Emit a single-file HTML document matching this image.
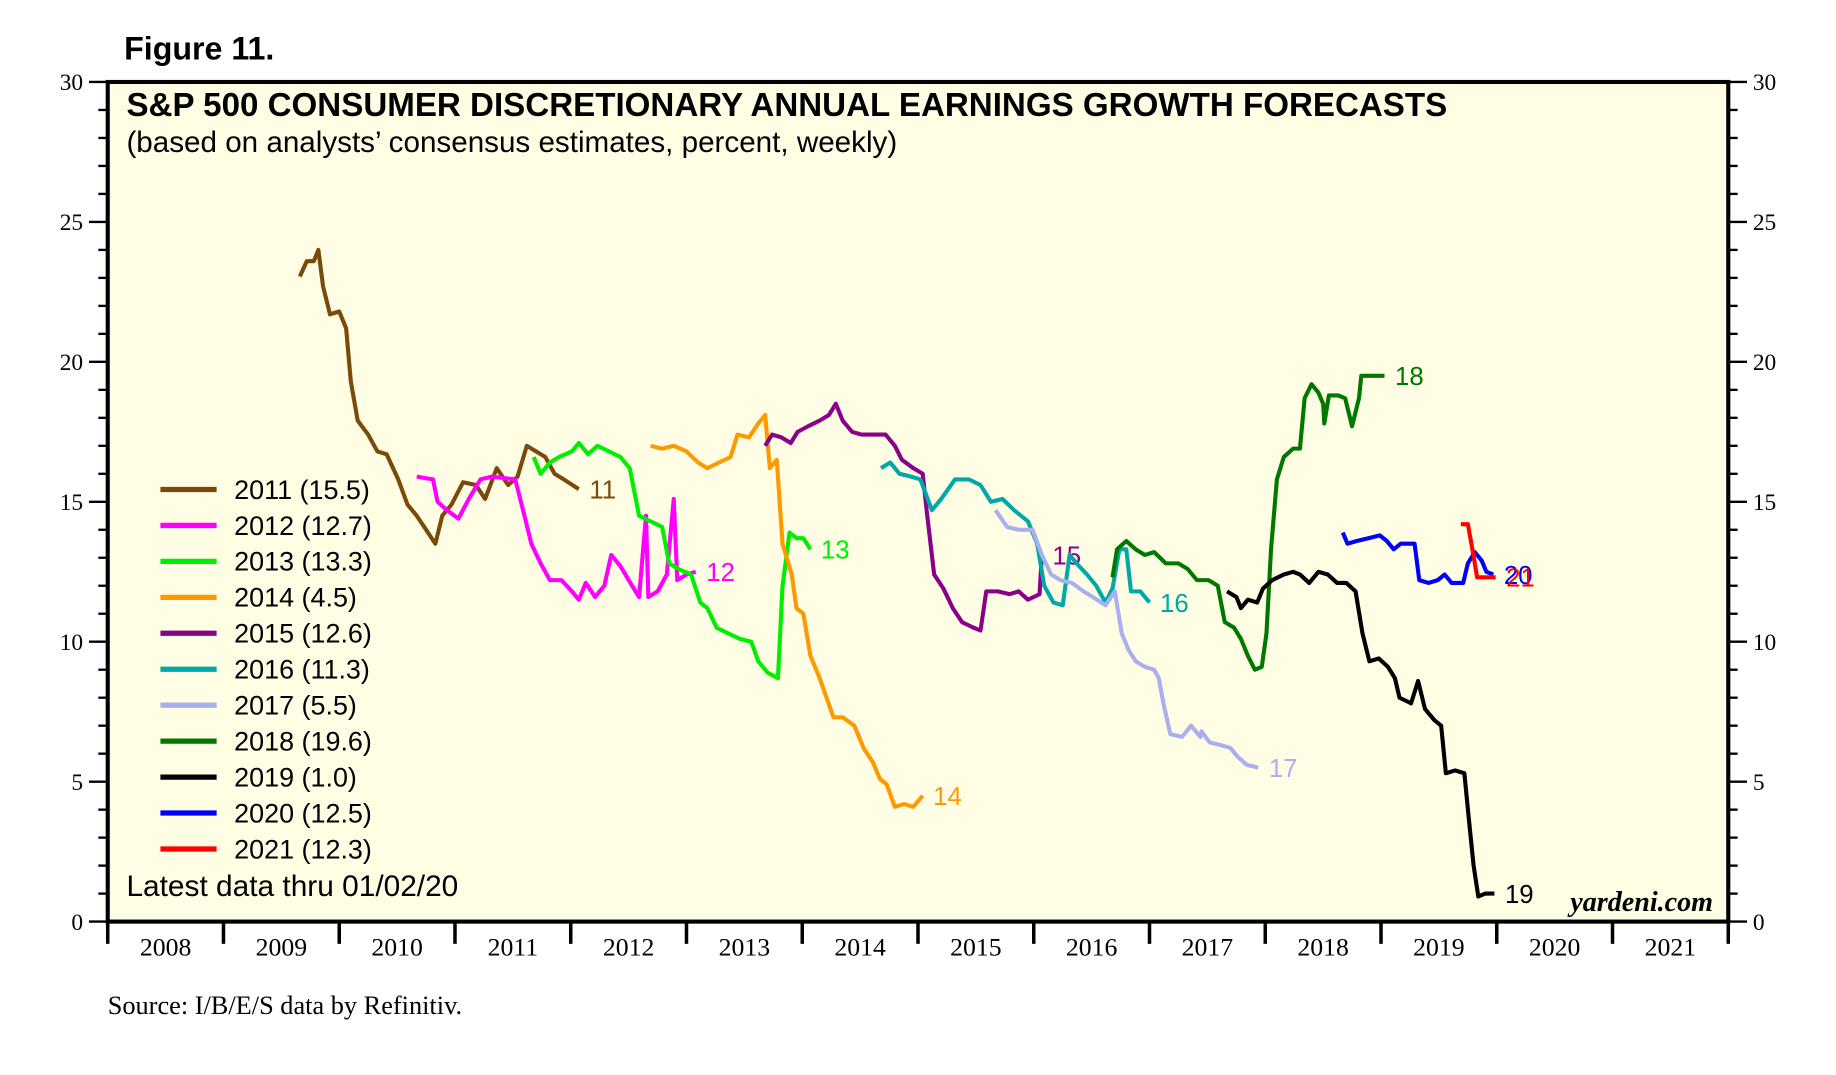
<!DOCTYPE html>
<html><head><meta charset="utf-8"><style>
html,body{margin:0;padding:0;background:#fff;}
svg{display:block;}
</style></head><body>
<svg id="chart" width="1836" height="1075" viewBox="0 0 1568 918" preserveAspectRatio="none" xmlns="http://www.w3.org/2000/svg">
<text x="106" y="51" font-family="Liberation Sans, sans-serif" font-weight="bold" font-size="27.5">Figure 11.</text>
<rect x="92" y="70" width="1384" height="717" fill="#fffde3"/>
<g id="axes"></g>
<g id="series"></g>
<rect x="92" y="70" width="1384" height="717" fill="none" stroke="#000" stroke-width="3.5"/>
<text x="108" y="99" font-family="Liberation Sans, sans-serif" font-weight="bold" font-size="28.3">S&amp;P 500 CONSUMER DISCRETIONARY ANNUAL EARNINGS GROWTH FORECASTS</text>
<text x="108" y="130" font-family="Liberation Sans, sans-serif" font-size="25.3">(based on analysts’ consensus estimates, percent, weekly)</text>
<g id="legend"></g>
<text x="108" y="765" font-family="Liberation Sans, sans-serif" font-size="25.5">Latest data thru 01/02/20</text>
<text x="1463" y="778" text-anchor="end" font-family="Liberation Serif, serif" font-style="italic" font-weight="bold" font-size="24">yardeni.com</text>
<text x="92" y="866" font-family="Liberation Serif, serif" font-size="22.5">Source: I/B/E/S data by Refinitiv.</text>
</svg>
<script>
const yearLabels=[2008,2009,2010,2011,2012,2013,2014,2015,2016,2017,2018,2019,2020,2021];
const yTicks=[0,5,10,15,20,25,30];
const seriesNames=["2011","2012","2013","2014","2015","2016","2017","2018","2019","2020","2021"];
const seriesColors=["#7a4a0a","#ff00ff","#00ee00","#ff9900","#8b008b","#00a8a8","#aab0ee","#007800","#000000","#0000ff","#ff0000"];
const legendValues=["15.5","12.7","13.3","4.5","12.6","11.3","5.5","19.6","1.0","12.5","12.3"];
const endLabels=["11","12","13","14","15","16","17","18","19","20","21"];
const t2011=[2009.66,2009.72,2009.78,2009.82,2009.86,2009.92,2010.0,2010.06,2010.10,2010.16,2010.25,2010.33,2010.41,2010.51,2010.59,2010.67,2010.75,2010.83,2010.89,2010.97,2011.07,2011.18,2011.26,2011.36,2011.46,2011.54,2011.62,2011.70,2011.78,2011.86,2011.94,2012.07];
const v2011=[23.05,23.6,23.6,24.0,22.7,21.7,21.8,21.2,19.3,17.9,17.4,16.8,16.7,15.8,14.9,14.5,14.0,13.5,14.5,14.9,15.7,15.6,15.1,16.2,15.6,15.9,17.0,16.8,16.6,16.0,15.8,15.45];
const t2012=[2010.67,2010.81,2010.85,2010.93,2011.03,2011.12,2011.22,2011.32,2011.52,2011.60,2011.66,2011.74,2011.82,2011.92,2012.01,2012.07,2012.13,2012.21,2012.29,2012.35,2012.43,2012.53,2012.59,2012.65,2012.67,2012.75,2012.83,2012.89,2012.92,2013.0,2013.08];
const v2012=[15.9,15.8,15.0,14.7,14.4,15.1,15.8,15.9,15.8,14.5,13.5,12.8,12.2,12.2,11.8,11.5,12.1,11.6,12.0,13.1,12.7,12.0,11.6,14.5,11.6,11.8,12.4,15.1,12.2,12.4,12.5];
const t2013=[2011.68,2011.74,2011.82,2011.90,2012.01,2012.07,2012.15,2012.23,2012.33,2012.43,2012.51,2012.59,2012.69,2012.79,2012.85,2012.93,2013.04,2013.12,2013.18,2013.26,2013.36,2013.46,2013.56,2013.62,2013.70,2013.79,2013.83,2013.89,2013.95,2014.01,2014.07];
const v2013=[16.6,16.0,16.4,16.6,16.8,17.1,16.7,17.0,16.8,16.6,16.2,14.5,14.3,14.1,12.8,12.6,12.4,11.4,11.2,10.5,10.3,10.1,10.0,9.3,8.9,8.7,12.0,13.9,13.7,13.7,13.3];
const t2014=[2012.69,2012.79,2012.89,2013.0,2013.10,2013.18,2013.28,2013.38,2013.44,2013.54,2013.62,2013.68,2013.72,2013.78,2013.83,2013.91,2013.95,2014.01,2014.07,2014.15,2014.21,2014.27,2014.35,2014.45,2014.53,2014.61,2014.67,2014.73,2014.80,2014.88,2014.96,2015.04];
const v2014=[17.0,16.9,17.0,16.8,16.4,16.2,16.4,16.6,17.4,17.3,17.8,18.1,16.2,16.5,13.5,12.4,11.2,11.0,9.5,8.7,8.0,7.3,7.3,7.0,6.2,5.7,5.1,4.9,4.1,4.2,4.1,4.5];
const t2015=[2013.68,2013.74,2013.82,2013.90,2013.96,2014.05,2014.15,2014.23,2014.29,2014.35,2014.43,2014.51,2014.62,2014.72,2014.80,2014.86,2014.96,2015.04,2015.08,2015.14,2015.22,2015.30,2015.38,2015.48,2015.54,2015.59,2015.69,2015.79,2015.87,2015.95,2016.05,2016.07];
const v2015=[17.0,17.4,17.3,17.1,17.5,17.7,17.9,18.1,18.5,17.9,17.5,17.4,17.4,17.4,17.0,16.5,16.2,16.0,14.5,12.4,11.9,11.2,10.7,10.5,10.4,11.8,11.8,11.7,11.8,11.5,11.7,13.1];
const t2016=[2014.68,2014.76,2014.84,2014.94,2015.02,2015.12,2015.20,2015.32,2015.44,2015.54,2015.63,2015.73,2015.83,2015.95,2016.03,2016.09,2016.17,2016.25,2016.31,2016.37,2016.46,2016.54,2016.62,2016.68,2016.74,2016.80,2016.84,2016.92,2017.0];
const v2016=[16.2,16.4,16.0,15.9,15.8,14.7,15.1,15.8,15.8,15.6,15.0,15.1,14.7,14.3,13.5,12.0,11.4,11.3,13.1,12.8,12.4,12.0,11.4,11.9,13.3,13.3,11.8,11.8,11.4];
const t2017=[2015.67,2015.77,2015.87,2015.99,2016.07,2016.15,2016.23,2016.33,2016.43,2016.51,2016.62,2016.70,2016.76,2016.82,2016.88,2016.96,2017.04,2017.08,2017.12,2017.18,2017.28,2017.36,2017.44,2017.45,2017.52,2017.62,2017.70,2017.76,2017.84,2017.94];
const v2017=[14.7,14.1,14.0,14.0,13.1,12.4,12.2,12.1,11.8,11.6,11.3,11.8,10.3,9.7,9.3,9.1,9.0,8.7,7.8,6.7,6.6,7.0,6.6,6.8,6.4,6.3,6.2,5.9,5.6,5.5];
const t2018=[2016.68,2016.72,2016.80,2016.88,2016.96,2017.04,2017.14,2017.25,2017.33,2017.41,2017.51,2017.59,2017.65,2017.73,2017.79,2017.85,2017.91,2017.97,2018.01,2018.05,2018.10,2018.16,2018.24,2018.30,2018.34,2018.40,2018.46,2018.50,2018.51,2018.55,2018.63,2018.69,2018.75,2018.81,2018.83,2018.91,2019.03];
const v2018=[12.3,13.3,13.6,13.3,13.1,13.2,12.8,12.8,12.6,12.2,12.2,12.0,10.7,10.5,10.1,9.5,9.0,9.1,10.3,13.3,15.8,16.6,16.9,16.9,18.7,19.2,18.9,18.5,17.8,18.8,18.8,18.7,17.7,18.7,19.5,19.5,19.5];
const t2019=[2017.67,2017.75,2017.79,2017.85,2017.93,2017.98,2018.06,2018.16,2018.24,2018.30,2018.38,2018.46,2018.54,2018.62,2018.70,2018.78,2018.84,2018.90,2018.98,2019.06,2019.12,2019.16,2019.26,2019.32,2019.38,2019.46,2019.52,2019.56,2019.64,2019.72,2019.76,2019.80,2019.84,2019.90,2019.98];
const v2019=[11.8,11.6,11.2,11.5,11.4,11.9,12.2,12.4,12.5,12.4,12.1,12.5,12.4,12.1,12.1,11.8,10.3,9.3,9.4,9.1,8.7,8.0,7.8,8.6,7.6,7.2,7.0,5.3,5.4,5.3,3.6,2.0,0.9,1.0,1.0];
const t2020=[2018.67,2018.71,2018.79,2018.89,2018.99,2019.05,2019.11,2019.17,2019.29,2019.33,2019.41,2019.49,2019.55,2019.61,2019.71,2019.75,2019.81,2019.87,2019.91,2019.97];
const v2020=[13.9,13.5,13.6,13.7,13.8,13.6,13.3,13.5,13.5,12.2,12.1,12.2,12.4,12.1,12.1,12.8,13.2,12.9,12.5,12.4];
const t2021=[2019.69,2019.75,2019.79,2019.83,2019.89,2019.99];
const v2021=[14.2,14.2,13.3,12.3,12.3,12.3];
const seriesT=[t2011,t2012,t2013,t2014,t2015,t2016,t2017,t2018,t2019,t2020,t2021];
const seriesV=[v2011,v2012,v2013,v2014,v2015,v2016,v2017,v2018,v2019,v2020,v2021];

const NS="http://www.w3.org/2000/svg";
const X0=92,X1=1476,Y0=787,Y1=70,YR0=2008,YR1=2022,VMAX=30;
function xs(t){return X0+(t-YR0)/(YR1-YR0)*(X1-X0);}
function ys(v){return Y0-v/VMAX*(Y0-Y1);}
function mk(tag,attrs,parent){const e=document.createElementNS(NS,tag);for(const k in attrs)e.setAttribute(k,attrs[k]);parent.appendChild(e);return e;}
const axes=document.getElementById('axes');
for(let v=0;v<=VMAX;v++){
  const y=ys(v);const major=v%5===0;const L=major?16:8;
  const tl=mk('line',{x1:X0-L,x2:X0,y1:y,y2:y,stroke:'#000','stroke-width':2},axes);
  
  
  const tr=mk('line',{x1:X1,x2:X1+L,y1:y,y2:y,stroke:'#000','stroke-width':2},axes);
  
  
}
yTicks.forEach(v=>{
  const a=mk('text',{x:X0-21,y:ys(v)+7,'text-anchor':'end','font-family':'Liberation Serif, serif','font-size':20},axes);a.textContent=v;
  
  
  const b=mk('text',{x:X1+21,y:ys(v)+7,'font-family':'Liberation Serif, serif','font-size':20},axes);b.textContent=v;
  
  
});
for(let i=0;i<=yearLabels.length;i++){
  const x=xs(YR0+i);
  const t=mk('line',{x1:x,x2:x,y1:Y0,y2:Y0+19,stroke:'#000','stroke-width':3},axes);
  
  
}
yearLabels.forEach(yr=>{
  const l=mk('text',{x:xs(yr+0.5),y:816,'text-anchor':'middle','font-family':'Liberation Serif, serif','font-size':22},axes);l.textContent=yr;
  
  
});
const sg=document.getElementById('series');
seriesT.forEach((ts,i)=>{
  const vs=seriesV[i];
  const pts=ts.map((t,j)=>xs(t).toFixed(1)+','+ys(vs[j]).toFixed(1)).join(' ');
  const p=mk('polyline',{points:pts,fill:'none',stroke:seriesColors[i],'stroke-width':3.5,'stroke-linejoin':'round'},sg);
  
  
  const lt=ts[ts.length-1],lv=vs[vs.length-1];
  const lab=mk('text',{x:xs(lt)+9,y:ys(lv)+8,fill:seriesColors[i],'font-family':'Liberation Sans, sans-serif','font-size':22},sg);
  lab.textContent=endLabels[i];
  
  
});
const lg=document.getElementById('legend');
seriesNames.forEach((n,i)=>{
  const y=418+i*30.7;
  const g=mk('g',{},lg);
  
  
  mk('line',{x1:137,x2:185,y1:y,y2:y,stroke:seriesColors[i],'stroke-width':4.5},g);
  const t=mk('text',{x:200,y:y+8,'font-family':'Liberation Sans, sans-serif','font-size':23},g);
  t.textContent=n+' ('+legendValues[i]+')';
});
</script>
</body></html>
